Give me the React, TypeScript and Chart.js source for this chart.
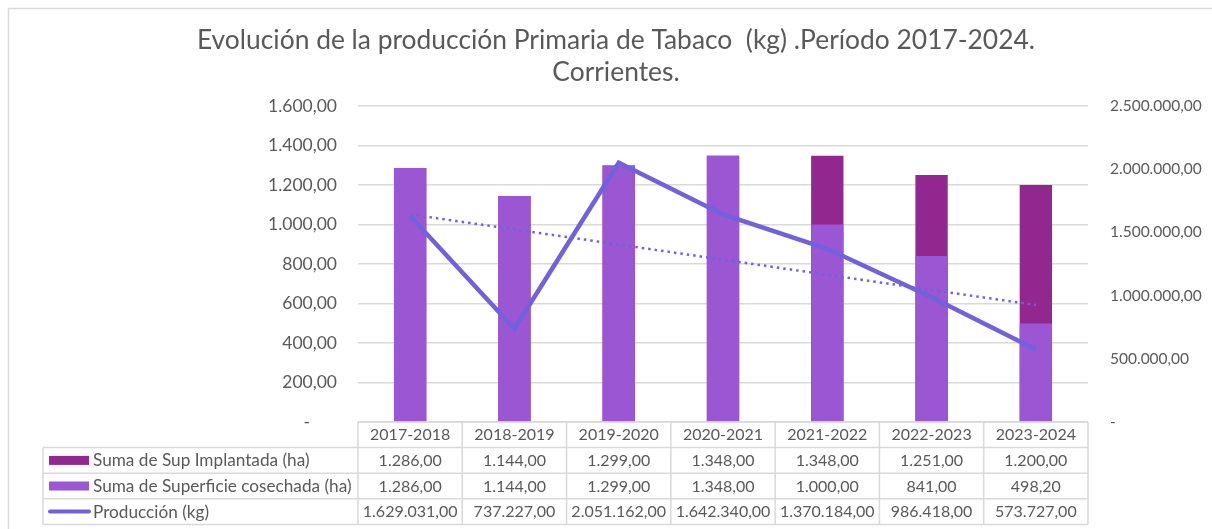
import React, { useEffect, useRef } from "react";
import { Chart, registerables } from "chart.js";

Chart.register(...registerables);

const categories = ["2017-2018", "2018-2019", "2019-2020", "2020-2021", "2021-2022", "2022-2023", "2023-2024"];
const supImplantada = [1286, 1144, 1299, 1348, 1348, 1251, 1200];
const supCosechada = [1286, 1144, 1299, 1348, 1000, 841, 498.2];
const produccion = [1629031, 737227, 2051162, 1642340, 1370184, 986418, 573727];
// Linear trend line of Producción, read at first and last category
const tendencia = [1643000, null, null, null, null, null, 925500];

const seriesNames = ["Suma de Sup Implantada (ha)", "Suma de Superficie cosechada (ha)", "Producción (kg)"];
const titleLines = ["Evolución de la producción Primaria de Tabaco  (kg) .Período 2017-2024.", "Corrientes."];

const COLOR_IMPL = "#922790";
const COLOR_COS = "#9A56D3";
const COLOR_LINE = "#7162DC";
const TEXT = "#595959";
const GRID = "#d9d9d9";
const FONT = "Lato";

function fmt(v: number): string {
  const neg = v < 0;
  const a = Math.abs(v);
  const fixed = a.toFixed(2);
  const [ip, dp] = fixed.split(".");
  const withDots = ip.replace(/\B(?=(\d{3})+(?!\d))/g, ".");
  return (neg ? "-" : "") + withDots + "," + dp;
}

const decorPlugin = {
  id: "decor",
  beforeDraw(chart: any) {
    const ctx = chart.ctx;
    ctx.save();
    ctx.fillStyle = "#ffffff";
    ctx.fillRect(0, 0, chart.width, chart.height);
    // outer chart frame
    ctx.strokeStyle = GRID;
    ctx.lineWidth = 1.5;
    ctx.beginPath();
    ctx.moveTo(8.5, chart.height);
    ctx.lineTo(8.5, 8.5);
    ctx.lineTo(chart.width, 8.5);
    ctx.stroke();
    // title
    ctx.fillStyle = TEXT;
    ctx.font = `26.4px ${FONT}`;
    ctx.textAlign = "center";
    ctx.textBaseline = "middle";
    ctx.fillText(titleLines[0], 616, 40);
    ctx.fillText(titleLines[1], 616, 72);
    ctx.restore();
  },
  afterDraw(chart: any) {
    const ctx = chart.ctx;
    const xs = chart.scales.x;
    const area = chart.chartArea;
    const n = categories.length;
    const W = (area.right - area.left) / n;
    const rowH = 25.6;
    const top = area.bottom;
    const tableLeft = 43;
    ctx.save();
    ctx.strokeStyle = GRID;
    ctx.lineWidth = 1.5;
    // horizontal lines
    ctx.beginPath();
    ctx.moveTo(area.left, top);
    ctx.lineTo(area.right, top);
    for (let r = 1; r <= 4; r++) {
      const y = top + r * rowH;
      ctx.moveTo(tableLeft, y);
      ctx.lineTo(area.right, y);
    }
    // vertical lines
    for (let i = 0; i <= n; i++) {
      const x = xs.getPixelForValue(0) - W / 2 + i * W;
      ctx.moveTo(x, top);
      ctx.lineTo(x, top + 4 * rowH);
    }
    ctx.moveTo(tableLeft, top + rowH);
    ctx.lineTo(tableLeft, top + 4 * rowH);
    ctx.stroke();

    ctx.fillStyle = TEXT;
    ctx.font = `16px ${FONT}`;
    ctx.textBaseline = "middle";
    ctx.textAlign = "center";
    const rows = [categories, supImplantada.map(fmt), supCosechada.map(fmt), produccion.map(fmt)];
    rows.forEach((row, r) => {
      const cy = top + r * rowH + rowH / 2 + 0.5;
      row.forEach((t, i) => {
        ctx.fillText(t, xs.getPixelForValue(i), cy);
      });
    });
    // legend column
    ctx.textAlign = "left";
    ctx.font = `17.2px ${FONT}`;
    const swatchColors = [COLOR_IMPL, COLOR_COS];
    for (let r = 0; r < 3; r++) {
      const cy = top + (r + 1) * rowH + rowH / 2;
      if (r < 2) {
        ctx.fillStyle = swatchColors[r];
        ctx.fillRect(49, cy - 4.5, 40, 9);
      } else {
        ctx.strokeStyle = COLOR_LINE;
        ctx.lineWidth = 4;
        ctx.lineCap = "round";
        ctx.beginPath();
        ctx.moveTo(50, cy);
        ctx.lineTo(89, cy);
        ctx.stroke();
      }
      ctx.fillStyle = TEXT;
      ctx.fillText(seriesNames[r], 93, cy + 0.5);
    }
    ctx.restore();
  },
};

export default function App() {
  const ref = useRef<HTMLCanvasElement | null>(null);
  useEffect(() => {
    if (!ref.current) return;
    const chart = new Chart(ref.current, {
      type: "bar",
      data: {
        labels: categories,
        datasets: [
          {
            type: "line",
            label: seriesNames[2],
            data: produccion,
            yAxisID: "y1",
            borderColor: COLOR_LINE,
            backgroundColor: COLOR_LINE,
            borderWidth: 4.5,
            pointRadius: 0,
            tension: 0,
            order: 0,
          } as any,
          {
            type: "line",
            label: "Lineal (Producción (kg))",
            data: tendencia,
            yAxisID: "y1",
            borderColor: COLOR_LINE,
            borderWidth: 2.5,
            borderDash: [2.5, 4],
            pointRadius: 0,
            spanGaps: true,
            order: 0,
          } as any,
          {
            type: "bar",
            label: seriesNames[1],
            data: supCosechada,
            yAxisID: "y",
            backgroundColor: COLOR_COS,
            grouped: false,
            categoryPercentage: 1,
            barPercentage: 0.31,
            order: 1,
          },
          {
            type: "bar",
            label: seriesNames[0],
            data: supImplantada,
            yAxisID: "y",
            backgroundColor: COLOR_IMPL,
            grouped: false,
            categoryPercentage: 1,
            barPercentage: 0.31,
            order: 2,
          },
        ],
      },
      options: {
        animation: false,
        responsive: true,
        maintainAspectRatio: false,
        layout: { padding: { top: 106, bottom: 107, left: 0, right: 0 } },
        plugins: {
          legend: { display: false },
          title: { display: false },
          tooltip: { enabled: false },
        },
        scales: {
          x: { display: false },
          y: {
            position: "left",
            min: 0,
            max: 1600,
            border: { display: false },
            grid: { color: GRID, lineWidth: 1.5, drawTicks: false },
            ticks: {
              stepSize: 200,
              padding: 21,
              color: TEXT,
              font: { family: FONT, size: 17.5 },
              callback: (v: any) => (Number(v) === 0 ? "-      " : fmt(Number(v))),
            },
            afterFit: (s: any) => {
              s.width = 358;
            },
          },
          y1: {
            position: "right",
            min: 0,
            max: 2500000,
            border: { display: false },
            grid: { display: false, drawTicks: false },
            ticks: {
              stepSize: 500000,
              padding: 22,
              color: TEXT,
              font: { family: FONT, size: 15.5 },
              callback: (v: any) => (Number(v) === 0 ? "-" : fmt(Number(v))),
            },
            afterFit: (s: any) => {
              s.width = 124;
            },
          },
        },
      },
      plugins: [decorPlugin],
    });
    return () => chart.destroy();
  }, []);
  return (
    <div style={{ position: "fixed", left: 0, top: 0, width: 1212, height: 529 }}>
      <canvas ref={ref} />
    </div>
  );
}
